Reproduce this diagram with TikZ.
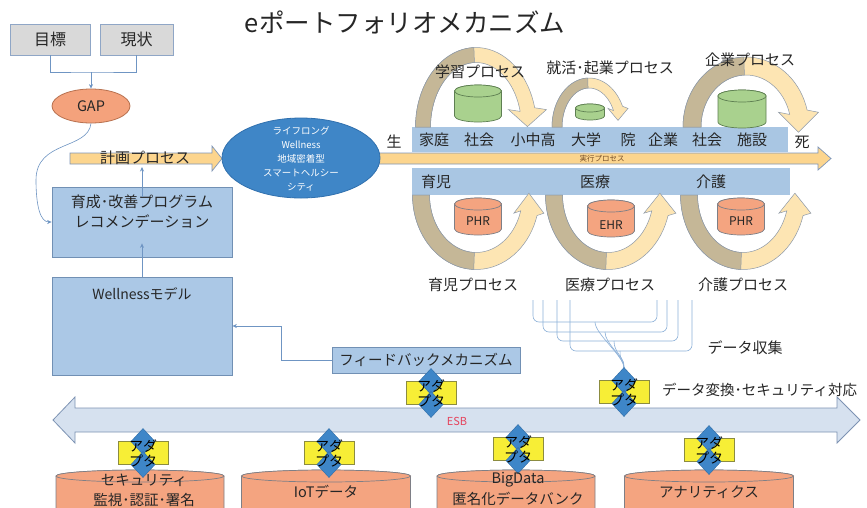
\documentclass[tikz,border=0pt]{standalone}
\usepackage{fontspec}
\setmainfont{Noto Sans CJK JP}
\usetikzlibrary{shapes.geometric,arrows.meta}
\definecolor{greybox}{HTML}{D9D9D9}
\definecolor{greyedge}{HTML}{8FA6C6}
\definecolor{gapfill}{HTML}{F4A27C}
\definecolor{gapedge}{HTML}{B8714F}
\definecolor{connc}{HTML}{6F95C3}
\definecolor{planfill}{HTML}{FCD58E}
\definecolor{planedge}{HTML}{7F96B8}
\definecolor{ellfill}{HTML}{3F86C7}
\definecolor{elledge}{HTML}{3070AE}
\definecolor{boxfill}{HTML}{ABC8E6}
\definecolor{boxedge}{HTML}{7190B4}
\definecolor{bandfill}{HTML}{A9C6E3}
\definecolor{arcdarkc}{HTML}{C5B797}
\definecolor{arclightc}{HTML}{FDE5B3}
\definecolor{arcedge}{HTML}{8D99A8}
\definecolor{greenfill}{HTML}{A9D18E}
\definecolor{greenedge}{HTML}{5E7F52}
\definecolor{orangefill}{HTML}{F4A480}
\definecolor{orangeedge}{HTML}{7E7F86}
\definecolor{yellowfill}{HTML}{F7EE36}
\definecolor{yellowedge}{HTML}{8C8C40}
\definecolor{diamfill}{HTML}{3E86C8}
\definecolor{diamedge}{HTML}{2F6CA6}
\definecolor{esbfill}{HTML}{D6E1EF}
\definecolor{esbedge}{HTML}{7D93B3}
\definecolor{esbtext}{HTML}{E5435C}
\definecolor{dlinec}{HTML}{8CB0D8}
\definecolor{txt}{HTML}{262626}

% curved process arrow: cx, cy, rx, ry, width, end angle, head half width, head length, sign
\newcommand\carc[9]{%
  \filldraw[arclight]
    plot[domain=180:#6,samples=40] ({#1+(#3+#5/2)*cos(\x)},{#2-(#9)*(#4+#5/2)*sin(\x)})
    -- ({#1+#3*cos(#6)+#7},{#2-(#9)*#4*sin(#6)})
    -- ({#1+#3*cos(#6)},{#2-(#9)*#4*sin(#6)+(#9)*#8})
    -- ({#1+#3*cos(#6)-#7},{#2-(#9)*#4*sin(#6)})
    -- plot[domain=#6:180,samples=40] ({#1+(#3-#5/2)*cos(\x)},{#2-(#9)*(#4-#5/2)*sin(\x)})
    -- cycle;
  \filldraw[arcdark]
    plot[domain=180:92,samples=30] ({#1+(#3+#5/2)*cos(\x)},{#2-(#9)*(#4+#5/2)*sin(\x)})
    -- plot[domain=92:180,samples=30] ({#1+(#3-#5/2)*cos(\x)},{#2-(#9)*(#4-#5/2)*sin(\x)})
    -- cycle;
}
% cylinder: cx, y of top ellipse, y of bottom ellipse, half width, ellipse y radius, style
\newcommand\cyl[6]{%
  \filldraw[#6] ({#1-#4},#2) -- ({#1-#4},#3)
    arc[start angle=180,end angle=360,x radius=#4pt,y radius=#5pt]
    -- ({#1+#4},#2)
    arc[start angle=0,end angle=180,x radius=#4pt,y radius=#5pt] -- cycle;
  \filldraw[#6] (#1,#2) ellipse[x radius=#4pt,y radius=#5pt];
}
% adapter: name, x, y
\newcommand\adapter[3]{%
  \node[adbox] (#1) at (#2,#3) {};
  \filldraw[diam] ({#2},{#3-24.5}) -- ({#2+12},{#3-11.5}) -- ({#2},{#3+1.5}) -- ({#2-12},{#3-11.5}) -- cycle;
  \filldraw[diam] ({#2},{#3-1.5}) -- ({#2+12},{#3+11.5}) -- ({#2},{#3+24.5}) -- ({#2-12},{#3+11.5}) -- cycle;
  \node[adtext] (#1t) at (#2,#3) {アダ\\プタ};
}

\begin{document}
\begin{tikzpicture}[x=1pt,y=-1pt,
  every node/.style={text=txt, inner sep=0pt},
  lbl/.style={font=\fontsize{15}{18}\selectfont},
  greyb/.style={draw=greyedge, fill=greybox, line width=0.8pt, minimum height=31pt, font=\fontsize{16}{18}\selectfont},
  bbox/.style={draw=boxedge, fill=boxfill, line width=0.8pt},
  band/.style={fill=bandfill},
  conn/.style={draw=connc, line width=0.6pt},
  arr/.style={conn, -{Stealth[length=4.5pt,width=4pt]}},
  arclight/.style={fill=arclightc, draw=arcedge, line width=0.5pt},
  arcdark/.style={fill=arcdarkc, draw=arcedge, line width=0.5pt},
  gcyl/.style={fill=greenfill, draw=greenedge, line width=0.7pt},
  ocyl/.style={fill=orangefill, draw=orangeedge, line width=0.7pt},
  adbox/.style={draw=yellowedge, fill=yellowfill, line width=0.6pt, minimum width=50pt, minimum height=23pt},
  diam/.style={fill=diamfill, draw=diamedge, line width=0.4pt},
  adtext/.style={font=\fontsize{14}{15}\selectfont, align=center, text=black},
  dline/.style={draw=dlinec, line width=0.6pt}
]
\useasboundingbox (0,0) rectangle (867,507);
\fill[white] (0,0) rectangle (867,507);

% title
\node[font=\fontsize{25.5}{28}\selectfont, text=black!85] (title) at (405,22) {eポートフォリオメカニズム};

% goal / current -> GAP
\node[greyb, minimum width=80pt] (mokuhyo) at (50,39.5) {目標};
\node[greyb, minimum width=73pt] (genjo) at (136.5,39.5) {現状};
\node[ellipse, draw=gapedge, fill=gapfill, line width=0.8pt, minimum width=78pt, minimum height=34pt, font=\fontsize{14.5}{16}\selectfont] (gap) at (91,106) {GAP};
\coordinate (jn) at (91,72);
\draw[conn] (mokuhyo.south) |- (jn) -| (genjo.south);
\draw[arr] (jn) -- (gap.north);

% planning arrow
\filldraw[draw=planedge, fill=planfill, line width=0.7pt] (70,153) -- (212,153) -- (212,146) -- (222,158.5) -- (212,171) -- (212,164) -- (70,164) -- cycle;
\node[lbl] (keikaku) at (145,158) {計画プロセス};
\coordinate (kbot) at (142,167);

% execution arrow
\filldraw[draw=planedge, fill=planfill, line width=0.7pt] (360,153) -- (818,153) -- (818,147) -- (831,158.5) -- (818,170) -- (818,164) -- (360,164) -- cycle;
\node[font=\fontsize{7.5}{8}\selectfont, text=brown!60!black] (jikko) at (602,158.5) {実行プロセス};

% lifelong ellipse
\node[ellipse, draw=elledge, fill=ellfill, line width=0.8pt, minimum width=158pt, minimum height=80pt] (life) at (301,158) {};
\node[font=\fontsize{9.5}{14}\selectfont, text=white, align=center] (lifetxt) at (301,159) {ライフロング\\Wellness\\地域密着型\\スマートヘルシー\\シティ};

% bands
\node[band, minimum width=376pt, minimum height=25pt] (band1) at (600,139.5) {};
\node[band, minimum width=378pt, minimum height=27pt] (band2) at (601,181.5) {};

% upper process arcs
\carc{476}{127}{53}{72}{15}{14}{19}{17}{1}
\carc{589}{127}{32}{44}{10}{25}{10}{12}{1}
\carc{746}{127}{54}{61}{18}{14}{20}{20}{1}
% lower process arcs
\carc{476}{195}{55}{66}{17}{16}{15}{20}{-1}
\carc{608}{195}{54}{66}{17}{16}{16}{20}{-1}
\carc{743}{195}{54}{66}{17}{16}{16}{20}{-1}

% cylinders in arcs
\cyl{478}{91}{116}{23.5}{6}{gcyl}
\cyl{590}{108}{116}{14.5}{4}{gcyl}
\cyl{742}{96}{122}{24}{6}{gcyl}
\cyl{478}{204}{229}{23.5}{6}{ocyl}
\cyl{611}{206}{231}{23.5}{6}{ocyl}
\cyl{741}{204}{229}{23.5}{6}{ocyl}
\node[font=\fontsize{12}{14}\selectfont] (phr1) at (478,221) {PHR};
\node[font=\fontsize{12}{14}\selectfont] (ehr) at (611,225) {EHR};
\node[font=\fontsize{12}{14}\selectfont] (phr2) at (741,221) {PHR};

% band labels
\node[lbl] (sei) at (394,142) {生};
\node[lbl] (shi) at (802,142) {死};
\node[lbl] (b1) at (434,140) {家庭};
\node[lbl] (b2) at (479,140) {社会};
\node[lbl] (b3) at (533,140) {小中高};
\node[lbl] (b4) at (586,140) {大学};
\node[lbl] (b5) at (628,140) {院};
\node[lbl] (b6) at (663,140) {企業};
\node[lbl] (b7) at (707,140) {社会};
\node[lbl] (b8) at (752,140) {施設};
\node[lbl] (c1) at (436,182) {育児};
\node[lbl] (c2) at (595,182) {医療};
\node[lbl] (c3) at (711,182) {介護};

% process labels
\node[lbl] (gakushu) at (480,72) {学習プロセス};
\node[lbl] (shukatsu) at (610,68) {就活･起業プロセス};
\node[lbl] (kigyop) at (750,60) {企業プロセス};
\node[lbl] (ikujip) at (473,285) {育児プロセス};
\node[lbl] (iryop) at (610,285) {医療プロセス};
\node[lbl] (kaigop) at (743,285) {介護プロセス};

% left boxes
\node[bbox, minimum width=180pt, minimum height=70pt] (ikusei) at (142,222) {};
\node[align=center, font=\fontsize{15}{20}\selectfont] (ikuseitxt) at (142,212) {育成･改善プログラム\\レコメンデーション};
\node[bbox, minimum width=180pt, minimum height=98pt] (wellness) at (142,326) {};
\node[font=\fontsize{14}{16}\selectfont] (welltxt) at (142,294) {Wellnessモデル};
\node[bbox, minimum width=188pt, minimum height=26pt, font=\fontsize{14.5}{16}\selectfont] (fb) at (426,360) {フィードバックメカニズム};

\draw[arr] (gap.south) .. controls (88,150) and (36,140) .. (36,180) .. controls (36,205) and (40,222) .. (ikusei.west);
\draw[arr] ([yshift=-10pt]ikusei.north) -- (kbot);
\draw[arr] (wellness.north) -- ([yshift=14pt]ikusei.south);
\draw[arr] (fb.west) -- ++(-50,0) |- (wellness.east);

% ESB
\filldraw[fill=esbfill, draw=esbedge, line width=0.8pt] (53,420) -- (75,397) -- (75,408) -- (837,408) -- (837,397) -- (860,420) -- (837,443) -- (837,432) -- (75,432) -- (75,443) -- cycle;
\node[font=\fontsize{11}{13}\selectfont, text=esbtext] (esb) at (457,421) {ESB};

% data collection lines
\coordinate (adBtop) at (624,368);
\foreach \L/\R/\B/\C in {533/657/322/595, 543/667/332/605, 557/678/341/614, 570/692/351/620} {
  \draw[dline, rounded corners=6pt] (\L,300) -- (\L,\B) -- (\R,\B) -- (\R,300);
  \draw[dline] (\C,\B) .. controls (\C,\B+12) and (624,356) .. (adBtop);
}
\node[lbl] (datacol) at (745,348) {データ収集};
\node[font=\fontsize{14.5}{17}\selectfont, anchor=west] (dataconv) at (662,390) {データ変換･セキュリティ対応};

% bottom cylinders
\cyl{140}{476}{520}{84}{6}{ocyl}
\cyl{326}{476}{520}{84.5}{6}{ocyl}
\cyl{516}{476}{520}{79}{6}{ocyl}
\cyl{709}{476}{520}{84.5}{6}{ocyl}

% adapters
\adapter{adA}{431}{393}
\adapter{adB}{624}{392}
\adapter{ad1}{143}{453}
\adapter{ad2}{329}{453}
\adapter{ad3}{518}{449}
\adapter{ad4}{709}{450}

\node[align=center, font=\fontsize{14.5}{20}\selectfont] (sec) at (144,490) {セキュリティ\\監視･認証･署名};
\node[font=\fontsize{14.5}{17}\selectfont] (iot) at (326,492) {IoTデータ};
\node[align=center, font=\fontsize{14.5}{21}\selectfont] (bigd) at (518,489) {BigData\\匿名化データバンク};
\node[font=\fontsize{14.5}{17}\selectfont] (ana) at (709,492) {アナリティクス};
\end{tikzpicture}
\end{document}
